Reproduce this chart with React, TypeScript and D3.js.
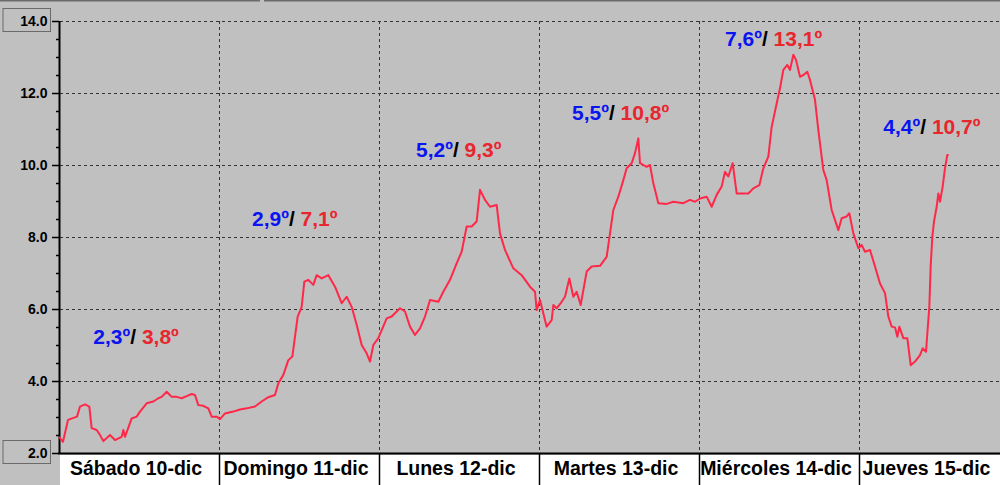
import React from "react";
import * as d3 from "d3";

// ---- DATA ----
const hours = [
  0.0, 0.6, 1.35, 2.7, 3.15, 3.9, 4.55, 4.9, 5.65, 6.15, 6.65, 7.65, 8.4, 9.4, 9.65, 9.9, 10.9, 11.65, 12.15, 13.15,
  14.15, 14.9, 15.4, 16.15, 16.9, 17.65, 18.4, 19.15, 19.9, 20.4, 20.9, 21.65, 22.4, 22.9, 23.65, 24.15, 24.9, 26.15,
  27.15, 28.15, 29.4, 30.4, 31.4, 32.4, 32.9, 33.65, 34.4, 35.0, 35.4, 35.8, 36.4, 36.8, 37.4, 38.15, 38.65, 39.4,
  40.4, 41.4, 42.4, 43.15, 43.9, 44.65, 45.4, 46.15, 46.65, 47.15, 47.9, 49.15, 49.9, 51.15, 51.9, 52.65, 53.4, 54.15,
  54.9, 55.65, 56.9, 57.65, 58.65, 59.65, 60.4, 61.15, 61.9, 62.65, 63.15, 63.9, 64.65, 65.65, 66.15, 66.9, 68.15,
  69.4, 70.65, 71.4, 71.65, 72.15, 73.15, 73.9, 74.15, 74.65, 75.4, 75.9, 76.55, 77.15, 77.65, 78.25, 79.15, 79.9,
  81.15, 82.15, 82.65, 83.15, 83.9, 84.65, 85.15, 85.9, 86.4, 86.9, 87.15, 88.15, 88.65, 89.15, 89.9, 91.15, 92.15,
  93.65, 94.65, 95.4, 96.15, 97.15, 97.9, 98.65, 99.4, 99.9, 100.4, 101.05, 101.65, 103.4, 104.15, 105.05, 105.65,
  106.4, 106.9, 107.65, 108.15, 108.65, 109.25, 109.65, 110.15, 110.55, 111.15, 111.65, 112.25, 112.65, 113.4, 113.9,
  114.65, 115.15, 115.9, 116.9, 117.4, 118.15, 118.55, 119.15, 119.9, 120.4, 120.9, 121.65, 122.4, 123.15, 123.9,
  124.4, 124.9, 125.4, 125.75, 126.05, 126.65, 127.25, 127.75, 128.4, 129.15, 129.55, 130.05, 130.25, 130.55, 130.75,
  131.0, 131.25, 131.65, 131.9, 132.15, 132.55, 132.9, 133.25, 133.45,
];
const temps = [
  2.45, 2.31, 2.92, 3.01, 3.29, 3.35, 3.29, 2.69, 2.64, 2.5, 2.33, 2.5, 2.36, 2.45, 2.64, 2.45, 2.96, 3.01, 3.15, 3.38,
  3.43, 3.52, 3.56, 3.7, 3.56, 3.56, 3.52, 3.58, 3.64, 3.61, 3.33, 3.31, 3.24, 3.01, 3.01, 2.94, 3.1, 3.15,
  3.21, 3.24, 3.29, 3.43, 3.55, 3.61, 3.94, 4.17, 4.58, 4.68, 5.23, 5.79, 6.06, 6.76, 6.81, 6.67, 6.94, 6.85,
  6.94, 6.62, 6.16, 6.34, 6.06, 5.56, 5.0, 4.77, 4.54, 5.0, 5.19, 5.74, 5.79, 6.02, 5.93, 5.51, 5.28, 5.46,
  5.79, 6.25, 6.2, 6.48, 6.81, 7.27, 7.59, 8.29, 8.29, 8.43, 9.31, 9.03, 8.84, 8.89, 8.1, 7.64, 7.13,
  6.94, 6.62, 6.48, 5.97, 6.25, 5.51, 5.69, 6.11, 6.02, 6.2, 6.34, 6.85, 6.34, 6.48, 6.11, 7.04, 7.18,
  7.2, 7.45, 8.1, 8.75, 9.12, 9.58, 9.91, 10.05, 10.33, 10.74, 10.05, 9.95, 10.0, 9.49, 8.94, 8.92, 8.98,
  8.94, 9.03, 8.98, 9.07, 9.12, 8.84, 9.17, 9.4, 9.81, 9.68, 10.05, 9.21, 9.21, 9.35, 9.44, 9.91,
  10.23, 11.06, 11.71, 12.13, 12.64, 12.78, 12.64, 13.06, 12.92, 12.45, 12.5, 12.59, 12.36, 11.81, 10.97,
  9.86, 9.58, 8.75, 8.19, 8.52, 8.57, 8.66, 8.1, 7.69, 7.78, 7.59, 7.64, 7.18, 6.71, 6.44,
  5.79, 5.51, 5.49, 5.23, 5.51, 5.19, 5.19, 4.44, 4.54, 4.72, 4.91, 4.81, 5.32, 6.06, 7.18,
  8.01, 8.43, 8.84, 9.21, 8.98, 9.4, 9.91, 10.28, 10.28,
];
const dayLabels = ["Sábado 10-dic", "Domingo 11-dic", "Lunes 12-dic", "Martes 13-dic", "Miércoles 14-dic", "Jueves 15-dic"];
const dayMin = ["2,3º", "2,9º", "5,2º", "5,5º", "7,6º", "4,4º"];
const dayMax = ["3,8º", "7,1º", "9,3º", "10,8º", "13,1º", "10,7º"];
const yTicks = [2, 4, 6, 8, 10, 12, 14];

// ---- LAYOUT (not data) ----
const W = 1000;
const H = 485;
const annotAnchor: [number, number][] = [
  [5.15, 5.03],
  [28.95, 8.31],
  [53.55, 10.23],
  [76.95, 11.25],
  [99.9, 13.31],
  [123.65, 10.86],
];

export default function App() {
  const x = d3.scaleLinear().domain([0, 141]).range([59, 999]);
  const y = d3.scaleLinear().domain([2, 14]).range([453, 21]);
  const pts = hours.map((h, i) => [h, temps[i]] as [number, number]);
  const line = d3
    .line<[number, number]>()
    .x((d) => x(d[0]))
    .y((d) => y(d[1]))
    .curve(d3.curveLinear);
  const minorTicks = d3.range(2, 14.01, 0.5).filter((v) => Math.abs(v % 2) > 0.01);
  const dayBounds = [24, 48, 72, 96, 120];
  const dayStarts = [0, 24, 48, 72, 96, 120];
  const font = "'Liberation Sans', Arial, sans-serif";

  return (
    <svg width={W} height={H} style={{ position: "absolute", left: 0, top: 0, display: "block" }}>
      <rect x={0} y={0} width={W} height={H} fill="#c0c0c0" />
      {/* top border line */}
      <line x1={0} x2={260} y1={0.5} y2={0.5} stroke="#6a6a6a" strokeWidth={2} />
      <line x1={264} x2={W} y1={0.5} y2={0.5} stroke="#6a6a6a" strokeWidth={2} />

      {/* horizontal gridlines */}
      {yTicks
        .filter((v) => v > 2)
        .map((v) => (
          <line
            key={"g" + v}
            x1={60}
            x2={W}
            y1={Math.round(y(v)) + 0.5}
            y2={Math.round(y(v)) + 0.5}
            stroke="#333"
            strokeWidth={1}
            strokeDasharray="3,3"
          />
        ))}
      {/* vertical gridlines */}
      {dayBounds.map((h) => (
        <line
          key={"v" + h}
          x1={Math.round(x(h)) + 0.5}
          x2={Math.round(x(h)) + 0.5}
          y1={y(14)}
          y2={453}
          stroke="#333"
          strokeWidth={1}
          strokeDasharray="3,3"
        />
      ))}

      {/* label row */}
      <rect x={60} y={455} width={W - 60} height={30} fill="#ffffff" />
      {dayBounds.map((h) => (
        <line
          key={"s" + h}
          x1={Math.round(x(h)) + 0.5}
          x2={Math.round(x(h)) + 0.5}
          y1={454}
          y2={H}
          stroke="#000"
          strokeWidth={1.5}
        />
      ))}
      {dayLabels.map((lbl, i) => {
        const x0 = x(dayStarts[i]);
        const x1 = i < dayLabels.length - 1 ? x(dayStarts[i] + 24) : W;
        return (
          <text
            key={"d" + i}
            x={(x0 + x1) / 2 - 3}
            y={474.5}
            textAnchor="middle"
            fontFamily={font}
            fontWeight="bold"
            fontSize={19.5}
            fill="#000"
          >
            {lbl}
          </text>
        );
      })}

      {/* axes */}
      <line x1={58} x2={W} y1={453.5} y2={453.5} stroke="#000" strokeWidth={2} />
      <line x1={59.5} x2={59.5} y1={y(14)} y2={454} stroke="#000" strokeWidth={2} />
      {yTicks.map((v) => (
        <line key={"t" + v} x1={52} x2={59} y1={y(v) + 0.5} y2={y(v) + 0.5} stroke="#000" strokeWidth={1.5} />
      ))}
      {minorTicks.map((v) => (
        <line key={"m" + v} x1={56} x2={59} y1={y(v) + 0.5} y2={y(v) + 0.5} stroke="#000" strokeWidth={1.5} />
      ))}
      {yTicks.map((v) => {
        const boxed = v === 2 || v === 14;
        return (
          <g key={"l" + v}>
            {boxed && (
              <rect x={3} y={y(v) - 12.5} width={47.5} height={23} fill="#c0c0c0" stroke="#6a6a6a" strokeWidth={1} />
            )}
            <text
              x={47.5}
              y={y(v) + 5}
              textAnchor="end"
              fontFamily={font}
              fontWeight="bold"
              fontSize={14}
              fill="#000"
            >
              {v.toFixed(1)}
            </text>
          </g>
        );
      })}

      {/* temperature line */}
      <path d={line(pts) || ""} fill="none" stroke="#ff2848" strokeWidth={2} strokeLinejoin="round" />

      {/* min / max annotations */}
      {annotAnchor.map((a, i) => (
        <text
          key={"a" + i}
          x={x(a[0])}
          y={y(a[1])}
          fontFamily={font}
          fontWeight="bold"
          fontSize={21}
        >
          <tspan fill="#0a14f0">{dayMin[i]}</tspan>
          <tspan fill="#000">/ </tspan>
          <tspan fill="#e8262e">{dayMax[i]}</tspan>
        </text>
      ))}
    </svg>
  );
}
